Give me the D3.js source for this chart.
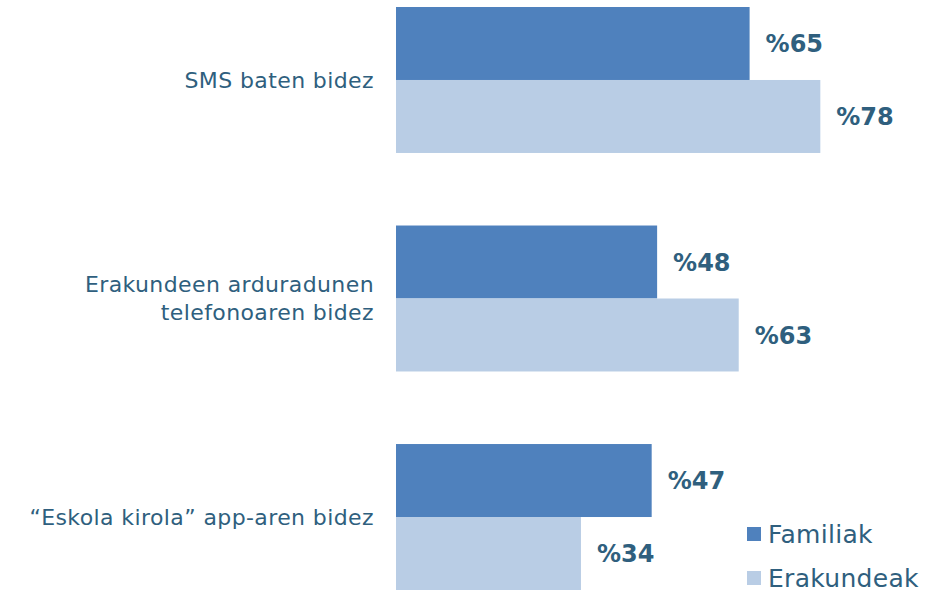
<!DOCTYPE html>
<html>
<head>
<meta charset="utf-8">
<script src="https://cdn.jsdelivr.net/npm/d3@7"></script>
<style>
  body { margin: 0; background: #fff; }
  svg text { font-family: "DejaVu Sans", sans-serif; }
</style>
</head>
<body>
<svg id="chart" width="949" height="593"></svg>
<script>
// data
var categories = [["SMS baten bidez"], ["Erakundeen arduradunen", "telefonoaren bidez"], ["\u201cEskola kirola\u201d app-aren bidez"]];
var series = ["Familiak", "Erakundeak"];
var familiak = [65, 48, 47];
var erakundeak = [78, 63, 34];

var colors = ["#4f81bd", "#b9cde5"];
var textColor = "#2f5f7e";

var svg = d3.select("#chart");

var x = d3.scaleLinear().domain([0, 100]).range([396, 940]);
var y = d3.scaleBand().domain(d3.range(categories.length)).range([7, 590]).paddingInner(0.332);
var ySub = d3.scaleBand().domain(series).range([0, y.bandwidth()]);

var rows = categories.map(function(c, i) {
  return {i: i, label: c, values: [
    {key: series[0], value: familiak[i]},
    {key: series[1], value: erakundeak[i]}
  ]};
});

var g = svg.selectAll("g.group")
  .data(rows)
  .enter().append("g")
    .attr("class", "group")
    .attr("transform", function(d) { return "translate(0," + y(d.i) + ")"; });

g.selectAll("rect")
  .data(function(d) { return d.values; })
  .enter().append("rect")
    .attr("x", x(0))
    .attr("y", function(d) { return ySub(d.key); })
    .attr("width", function(d) { return x(d.value) - x(0); })
    .attr("height", ySub.bandwidth())
    .attr("fill", function(d, j) { return colors[j]; });

g.selectAll("text.val")
  .data(function(d) { return d.values; })
  .enter().append("text")
    .attr("class", "val")
    .attr("x", function(d) { return x(d.value) + 16; })
    .attr("y", function(d) { return ySub(d.key) + ySub.bandwidth() / 2; })
    .attr("dy", "0.36em")
    .attr("fill", textColor)
    .attr("font-weight", "bold")
    .attr("font-size", 24)
    .text(function(d) { return "%" + d.value; });

g.append("text")
    .attr("class", "cat")
    .attr("text-anchor", "end")
    .attr("x", 374)
    .attr("y", y.bandwidth() / 2)
    .attr("fill", textColor)
    .attr("font-size", 22)
    .attr("letter-spacing", 0.4)
  .selectAll("tspan")
  .data(function(d) { return d.label.map(function(l, k) { return {l: l, k: k, n: d.label.length}; }); })
  .enter().append("tspan")
    .attr("x", 374)
    .attr("dy", function(d) { return d.k === 0 ? (0.35 - (d.n - 1) * 0.64) + "em" : "1.28em"; })
    .text(function(d) { return d.l; });

var legend = svg.selectAll("g.legend")
  .data(series)
  .enter().append("g")
    .attr("class", "legend")
    .attr("transform", function(d, i) { return "translate(747," + (527 + i * 44) + ")"; });

legend.append("rect")
  .attr("width", 14).attr("height", 14)
  .attr("fill", function(d, i) { return colors[i]; });

legend.append("text")
  .attr("x", 21).attr("y", 7).attr("dy", "0.36em")
  .attr("fill", textColor)
  .attr("font-size", 25)
  .attr("letter-spacing", 0.3)
  .text(function(d) { return d; });
</script>
</body>
</html>
